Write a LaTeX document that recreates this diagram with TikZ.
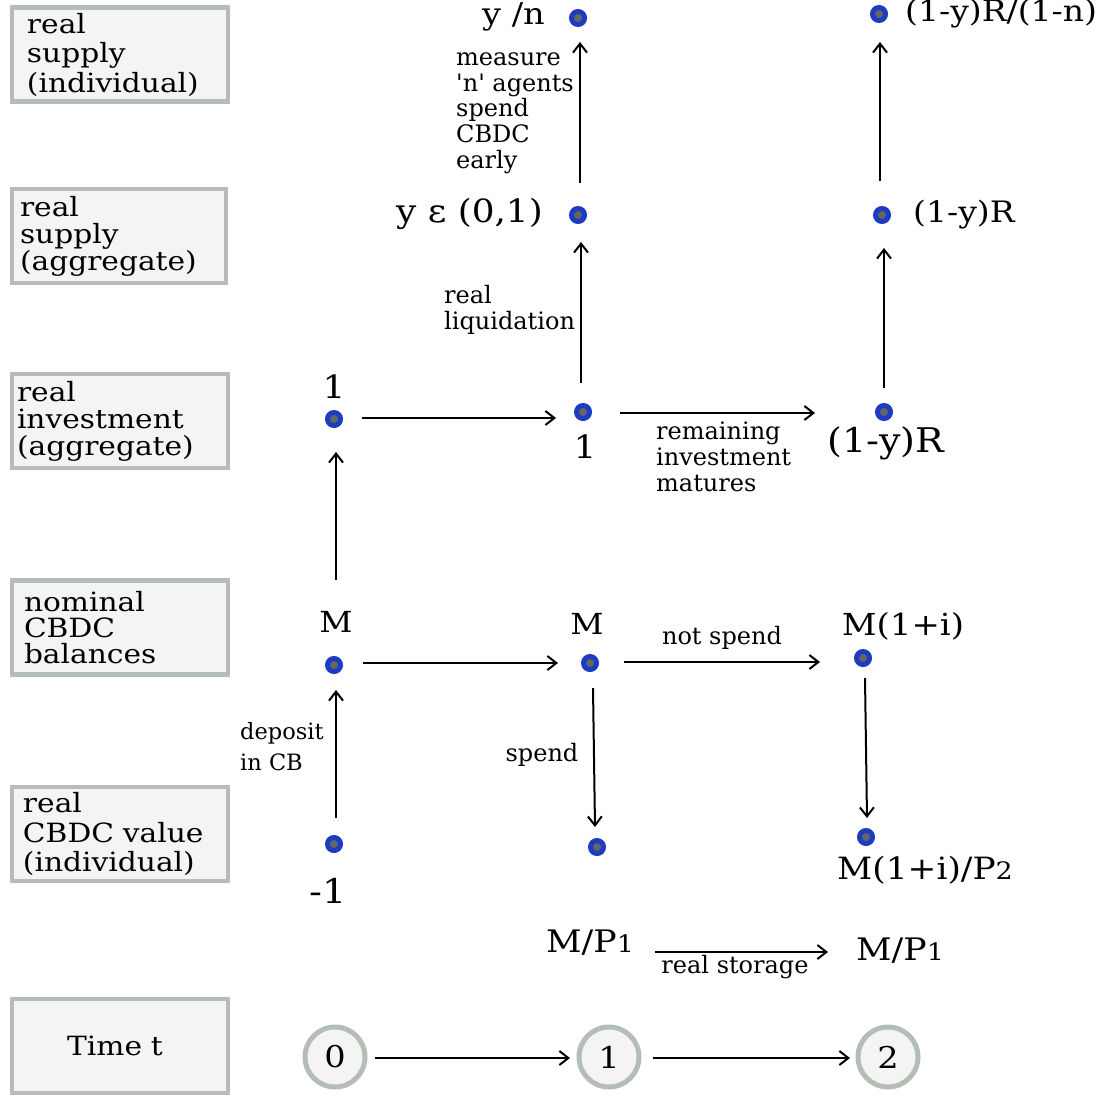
\documentclass[tikz,border=0pt]{standalone}
\usepackage{fontspec}
\setmainfont{DejaVu Serif}
\newfontfamily\wideserif{DejaVu Serif}[FakeStretch=1.12]
\newfontfamily\labserif{DejaVu Serif}
\usetikzlibrary{arrows.meta,calc}
\definecolor{boxline}{HTML}{B4BEB4}
\definecolor{boxfill}{HTML}{F4F4F4}
\definecolor{dotblue}{HTML}{1E3CC0}
\definecolor{dotgray}{HTML}{666666}
\newcommand{\vsz}[1]{\wideserif\fontsize{#1}{#1}\selectfont}
\newcommand{\sdig}[2]{{\fontsize{#1}{#1}\selectfont #2}}
\begin{document}
\begin{tikzpicture}[x=1pt,y=-1pt,
  box/.style={draw=boxline, fill=boxfill, line width=4.5pt, minimum height=94pt, align=left, inner ysep=0pt, font=\wideserif\fontsize{26.5}{29.5}\selectfont},
  dot/.style={circle, draw=dotblue, fill=dotgray, line width=5pt, inner sep=0pt, minimum size=13pt},
  val/.style={inner sep=0pt, font=\vsz{29}},
  lab/.style={inner sep=0pt, align=left, font=\labserif\fontsize{24}{25.7}\selectfont},
  arr/.style={line width=2pt, -{Straight Barb[length=9pt,width=14pt,line width=2pt]}},
  tcirc/.style={circle, draw=boxline, fill=boxfill, line width=5pt, minimum size=60pt, inner sep=0pt, font=\vsz{30}}]
\useasboundingbox (0,0) rectangle (1102,1097);

% row boxes
\node[box, inner xsep=15pt, text width=186pt] (b1) at (120,54.5) {real\\supply\\(individual)};
\node[box, inner xsep=8pt, text width=198pt, font=\wideserif\fontsize{26.5}{27}\selectfont] (b2) at (119,236) {real\\supply\\(aggregate)};
\node[box, inner xsep=5pt, text width=206pt, font=\wideserif\fontsize{26.5}{27}\selectfont] (b3) at (120,421) {real\\investment\\(aggregate)};
\node[box, inner xsep=12pt, text width=192pt, font=\wideserif\fontsize{26.5}{26}\selectfont] (b4) at (120,627.5) {nominal\\CBDC\\balances};
\node[box, inner xsep=11pt, text width=194pt] (b5) at (120,834) {real\\CBDC value\\(individual)};
\node[box, inner xsep=8pt, text width=200pt, align=center] (b6) at (120,1046) {\hspace*{-10pt}Time t};

% dots
\node[dot] (yn) at (578,18) {};
\node[dot] (rtop) at (879,14) {};
\node[dot] (yeps) at (578,215) {};
\node[dot] (r2) at (882,215) {};
\node[dot] (i0) at (334,419) {};
\node[dot] (i1) at (583,412) {};
\node[dot] (iR) at (884,412) {};
\node[dot] (m0) at (334,665) {};
\node[dot] (m1) at (590,663) {};
\node[dot] (m2) at (863,658) {};
\node[dot] (c0) at (334,844) {};
\node[dot] (c1) at (597,847) {};
\node[dot] (c2) at (866,837) {};

% value labels
\node[val, anchor=east, font=\vsz{30}] (Lyn) at (545,17) {y /n};
\node[val, anchor=west, font=\vsz{29.5}] (Lrtop) at (905,14) {(1-y)R/(1-n)};
\node[val, anchor=east, font=\vsz{32}] (Lyeps) at (543,214) {y ε (0,1)};
\node[val, anchor=west, font=\vsz{29.5}] (Lr2) at (913,215) {(1-y)R};
\node[val, font=\vsz{32}] (Li0) at (334,387) {1};
\node[val, font=\vsz{32}] (Li1) at (585,447) {1};
\node[val, font=\vsz{34}] (LiR) at (886,443) {(1-y)R};
\node[val] (Lm0) at (336,622) {M};
\node[val] (Lm1) at (587,624) {M};
\node[val, font=\vsz{30.3}] (Lm2) at (903,626) {M(1+i)};
\node[val, font=\vsz{34}] (Lc0) at (328,891) {-1};
\node[val, font=\vsz{30.7}] (Lc2) at (925,870) {M(1+i)/P\sdig{24}{2}};
\node[val, font=\vsz{31}] (mp1) at (590,943) {M/P\sdig{24}{1}};
\node[val, font=\vsz{31}] (mp2) at (900,951) {M/P\sdig{24}{1}};

% arrow labels
\node[lab, anchor=west] (Lmeas) at (456,113) {measure\\'n' agents\\spend\\CBDC\\early};
\node[lab, anchor=west] (Lliq) at (444,310) {real\\liquidation};
\node[lab, anchor=west] (Lrem) at (656,457) {remaining\\investment\\matures};
\node[lab, anchor=west, font=\labserif\fontsize{22.5}{31}\selectfont] (Ldep) at (240,747) {deposit\\in CB};
\node[lab] (Lns) at (722,638) {not spend};
\node[lab] (Lsp) at (542,755) {spend};
\node[lab] (Lst) at (735,967) {real storage};

% time circles
\node[tcirc] (t0) at (335,1057) {0};
\node[tcirc] (t1) at (609,1057) {1};
\node[tcirc] (t2) at (888,1057) {2};

% arrows
\draw[arr] ($(yeps)+(2,-32)$) -- ($(yn)+(2,24)$);
\draw[arr] ($(r2)+(-2,-34)$) -- ($(rtop)+(1,28)$);
\draw[arr] ($(i1)+(-2,-29)$) -- ($(yeps)+(3,27)$);
\draw[arr] ($(iR)+(0,-24)$) -- ($(r2)+(2,33)$);
\draw[arr] ($(m0)+(2,-85)$) -- ($(i0)+(2,33)$);
\draw[arr] ($(c0)+(2,-26)$) -- ($(m0)+(2,25)$);
\draw[arr] ($(i0)+(28,-1)$) -- ($(i1)+(-27,6)$);
\draw[arr] ($(i1)+(37,1)$) -- ($(iR)+(-69,1)$);
\draw[arr] ($(m0)+(29,-2)$) -- ($(m1)+(-32,0)$);
\draw[arr] ($(m1)+(34,-1)$) -- ($(m2)+(-43,4)$);
\draw[arr] ($(m1)+(3,25)$) -- ($(c1)+(-2,-20)$);
\draw[arr] ($(m2)+(2,20)$) -- ($(c2)+(1,-19)$);
\draw[arr] ($(mp1)+(65,9)$) -- ($(mp2)+(-72,1)$);
\draw[arr] ($(t0)+(40,1)$) -- ($(t1)+(-39,1)$);
\draw[arr] ($(t1)+(44,1)$) -- ($(t2)+(-38,1)$);
\end{tikzpicture}
\end{document}
